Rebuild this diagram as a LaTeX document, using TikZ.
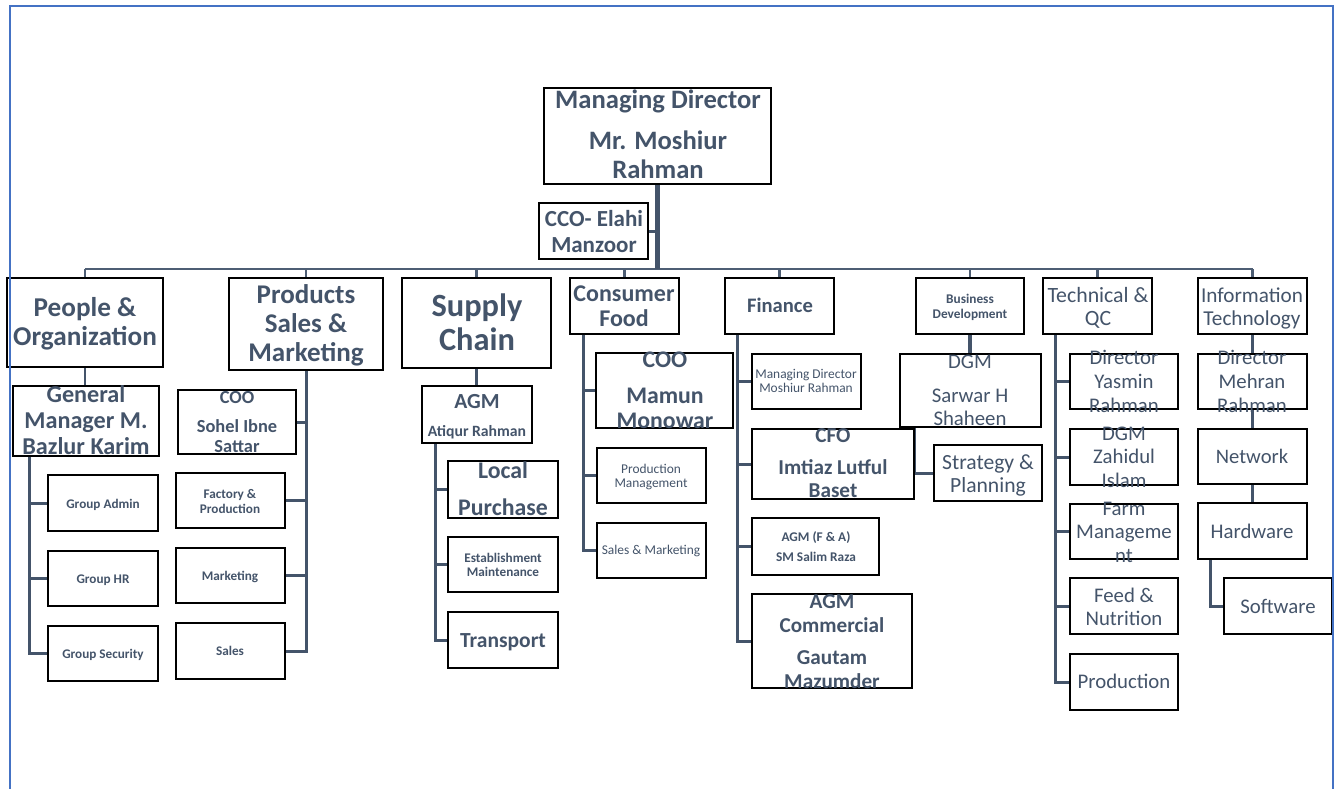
\documentclass[tikz,border=0pt]{standalone}
\usepackage{fontspec}
\setmainfont{Carlito}
\usetikzlibrary{calc}
\definecolor{tcol}{HTML}{44546A}
\definecolor{lcol}{HTML}{44546A}
\definecolor{bcol}{HTML}{4E5E74}
\definecolor{framecol}{HTML}{4472C4}
\pgfdeclarelayer{bg}
\pgfsetlayers{bg,main}
\newcommand\fs[2]{\fontsize{#1}{#2}\selectfont}
\newcommand\bx[5]{\node[box, minimum width={(#4-#2)*1pt}, minimum height={(#5-#3)*1pt}] (#1) at ({(#2+#4)/2},{(#3+#5)/2}) {};}
\newcommand\tx[5]{\node[txt, font=#4] (#1) at (#2,#3) {\begin{tabular}[t]{@{}c@{}}#5\end{tabular}};}
\begin{document}
\begin{tikzpicture}[x=1pt,y=-1pt,
  box/.style={draw=black, line width=1.4pt, fill=white, inner sep=0pt, outer sep=0pt},
  txt/.style={anchor=base, inner sep=0pt, outer sep=0pt, text=tcol},
  conn/.style={draw=lcol, line width=3pt},
  busline/.style={draw=bcol, line width=2.2pt}]
\useasboundingbox (0,0) rectangle (1338,789);

% ---------- boxes ----------
\bx{md}{544}{88}{771}{184}
\bx{cco}{539}{203}{648}{259}
\bx{pno}{7}{278}{163}{367}
\bx{psm}{229}{278}{383}{370}
\bx{sc}{402}{278}{551}{368}
\bx{cf}{570}{278}{679}{334}
\bx{fin}{725}{278}{834}{334}
\bx{bd}{916}{278}{1024}{334}
\bx{tqc}{1043}{278}{1152}{334}
\bx{it}{1198}{278}{1307}{334}

\bx{gm}{13}{386}{159}{456}
\bx{ga}{48}{475}{158}{531}
\bx{ghr}{48}{551}{158}{606}
\bx{gs}{48}{626}{158}{681}

\bx{coos}{178}{390}{296}{454}
\bx{fp}{176}{473}{285}{528}
\bx{mk}{176}{548}{285}{603}
\bx{sl}{176}{623}{285}{679}

\bx{agm}{422}{386}{532}{443}
\bx{lp}{448}{461}{558}{518}
\bx{em}{448}{537}{558}{592}
\bx{tr}{448}{612}{558}{668}

\bx{coom}{596}{353}{733}{428}
\bx{pm}{597}{448}{706}{503}
\bx{smk}{597}{523}{706}{578}

\bx{mds}{752}{354}{861}{409}
\bx{cfo}{752}{429}{914}{499}
\bx{agmfa}{752}{518}{879}{575}
\bx{agmc}{752}{594}{912}{688}

\bx{dgm}{900}{354}{1041}{427}
\bx{sp}{934}{445}{1042}{501}

\bx{dy}{1070}{354}{1178}{409}
\bx{dz}{1070}{429}{1178}{485}
\bx{fm}{1070}{504}{1178}{559}
\bx{fn}{1070}{578}{1178}{634}
\bx{pr}{1070}{654}{1178}{710}

\bx{dm}{1198}{354}{1307}{409}
\bx{nw}{1198}{429}{1307}{484}
\bx{hw}{1198}{503}{1307}{559}
\bx{sw}{1224}{578}{1332}{634}

% ---------- texts ----------
\tx{md-t}{658}{109}{\fs{26.6}{29}\bfseries}{Managing Director\\[12pt]Mr. Moshiur\\Rahman}
\tx{cco-t}{594}{226}{\fs{23}{26}\bfseries}{CCO- Elahi\\Manzoor}
\tx{pno-t}{85}{316}{\fs{27.2}{29}\bfseries}{People \&\\Organization}
\tx{psm-t}{306}{303}{\fs{27}{29}\bfseries}{Products\\Sales \&\\Marketing}
\tx{sc-t}{477}{316}{\fs{32.4}{34}\bfseries}{Supply\\Chain}
\tx{cf-t}{624}{301}{\fs{24}{25}\bfseries}{Consumer\\Food}
\tx{fin-t}{780}{312}{\fs{20.6}{23}\bfseries}{Finance}
\tx{bd-t}{970}{303}{\fs{13.3}{15}\bfseries}{Business\\Development}
\tx{tqc-t}{1098}{302}{\fs{21.8}{23}}{Technical \&\\QC}
\tx{it-t}{1252}{302}{\fs{21.2}{23}}{Information\\Technology}

\tx{gm-t}{86}{402}{\fs{24.2}{26}\bfseries}{General\\Manager M.\\Bazlur Karim}
\tx{ga-t}{103}{508}{\fs{13.2}{15}\bfseries}{Group Admin}
\tx{ghr-t}{103}{583}{\fs{13.2}{15}\bfseries}{Group HR}
\tx{gs-t}{103}{658}{\fs{13.2}{15}\bfseries}{Group Security}

\tx{coos-t}{237}{403}{\fs{18.4}{20}\bfseries}{COO\\[9pt]Sohel Ibne\\Sattar}
\tx{fp-t}{230}{498}{\fs{13.2}{15}\bfseries}{Factory \&\\Production}
\tx{mk-t}{230}{580}{\fs{13.2}{15}\bfseries}{Marketing}
\tx{sl-t}{230}{655}{\fs{13.2}{15}\bfseries}{Sales}

\tx{agm-t}{477}{408}{\fs{21.5}{23}\bfseries}{AGM\\[5pt]{\fs{15.7}{17}\bfseries Atiqur Rahman}}
\tx{lp-t}{503}{478}{\fs{23.8}{26}\bfseries}{Local\\[11pt]Purchase}
\tx{em-t}{503}{562}{\fs{13.2}{14}\bfseries}{Establishment\\Maintenance}
\tx{tr-t}{503}{647}{\fs{21.5}{23}\bfseries}{Transport}

\tx{coom-t}{665}{367}{\fs{23.8}{25}\bfseries}{COO\\[11pt]Mamun\\Monowar}
\tx{pm-t}{651}{473}{\fs{13.4}{14}}{Production\\Management}
\tx{smk-t}{651}{554}{\fs{13.4}{14}}{Sales \& Marketing}

\tx{mds-t}{806}{378}{\fs{13.4}{14}}{Managing Director\\Moshiur Rahman}
\tx{cfo-t}{833}{442}{\fs{21.2}{23}\bfseries}{CFO\\[9pt]Imtiaz Lutful\\Baset}
\tx{agmfa-t}{816}{541}{\fs{13.3}{15}\bfseries}{AGM (F \& A)\\[5pt]SM Salim Raza}
\tx{agmc-t}{832}{608}{\fs{21.2}{24}\bfseries}{AGM\\Commercial\\[8pt]Gautam\\Mazumder}

\tx{dgm-t}{970}{368}{\fs{20.8}{23}}{DGM\\[11pt]Sarwar H\\Shaheen}
\tx{sp-t}{988}{469}{\fs{21.6}{23}}{Strategy \&\\Planning}

\tx{dy-t}{1124}{364}{\fs{20.8}{24}}{Director\\Yasmin\\Rahman}
\tx{dz-t}{1124}{440}{\fs{20.8}{23.5}}{DGM\\Zahidul\\Islam}
\tx{fm-t}{1124}{515}{\fs{20.8}{23.5}}{Farm\\Manageme\\nt}
\tx{fn-t}{1124}{602}{\fs{20.8}{23}}{Feed \&\\Nutrition}
\tx{pr-t}{1124}{688}{\fs{20.8}{23}}{Production}

\tx{dm-t}{1252}{364}{\fs{20.8}{24}}{Director\\Mehran\\Rahman}
\tx{nw-t}{1252}{463}{\fs{20.6}{23}}{Network}
\tx{hw-t}{1252}{538}{\fs{20.8}{23}}{Hardware}
\tx{sw-t}{1278}{613}{\fs{20.8}{23}}{Software}

% ---------- spine coordinates ----------
\coordinate (busL) at (85,269);
\coordinate (busR) at (1253,269);
\coordinate (gmsp) at ($(gm.south west)+(16,0)$);
\coordinate (agsp) at ($(agm.south west)+(13,0)$);
\coordinate (cfsp) at ($(cf.south west)+(13,0)$);
\coordinate (finsp) at ($(fin.south west)+(12,0)$);
\coordinate (tqsp) at ($(tqc.south west)+(12,0)$);
\coordinate (hwsp) at ($(hw.south west)+(12,0)$);

% ---------- connectors ----------
\begin{pgfonlayer}{bg}
\draw[busline] (busL) -- (busR);
\foreach \n in {pno,psm,sc,cf,fin,bd,tqc,it}
  \draw[busline] (\n.north |- busL) -- (\n.north);
\draw[conn, line width=4.5pt] (md.south) -- (md.south |- busL);
\draw[conn] (cco.east) -- (cco.east -| md.south);

\draw[conn, line width=2.5pt] (pno.south) -- (pno.south |- gm.north);
\draw[conn] (gmsp) |- (gs.west);
\draw[conn] (ga.west) -- (ga.west -| gmsp);
\draw[conn] (ghr.west) -- (ghr.west -| gmsp);

\draw[conn] (psm.south) |- (sl.east);
\draw[conn] (coos.east) -- (coos.east -| psm.south);
\draw[conn] (fp.east) -- (fp.east -| psm.south);
\draw[conn] (mk.east) -- (mk.east -| psm.south);

\draw[conn, line width=2.5pt] (sc.south) -- (sc.south |- agm.north);
\draw[conn] (agsp) |- (tr.west);
\draw[conn] (lp.west) -- (lp.west -| agsp);
\draw[conn] (em.west) -- (em.west -| agsp);

\draw[conn] (cfsp) |- (smk.west);
\draw[conn] (coom.west) -- (coom.west -| cfsp);
\draw[conn] (pm.west) -- (pm.west -| cfsp);

\draw[conn] (finsp) |- (agmc.west);
\draw[conn] (mds.west) -- (mds.west -| finsp);
\draw[conn] (cfo.west) -- (cfo.west -| finsp);
\draw[conn] (agmfa.west) -- (agmfa.west -| finsp);

\draw[conn, line width=3.5pt] (bd.south) -- (bd.south |- dgm.north);
\draw[conn] (dgm.south -| cfo.east) |- (sp.west);

\draw[conn] (tqsp) |- (pr.west);
\draw[conn] (dy.west) -- (dy.west -| tqsp);
\draw[conn] (dz.west) -- (dz.west -| tqsp);
\draw[conn] (fm.west) -- (fm.west -| tqsp);
\draw[conn] (fn.west) -- (fn.west -| tqsp);

\draw[conn] (it.south) -- (it.south |- dm.north);
\draw[conn] (dm.south) -- (nw.north);
\draw[conn] (nw.south) -- (hw.north);
\draw[conn] (hwsp) |- (sw.west);
\end{pgfonlayer}

% ---------- page frame ----------
\draw[framecol, line width=1.5pt] (10,800) -- (10,6) -- (1333,6) -- (1333,800);
\end{tikzpicture}
\end{document}
